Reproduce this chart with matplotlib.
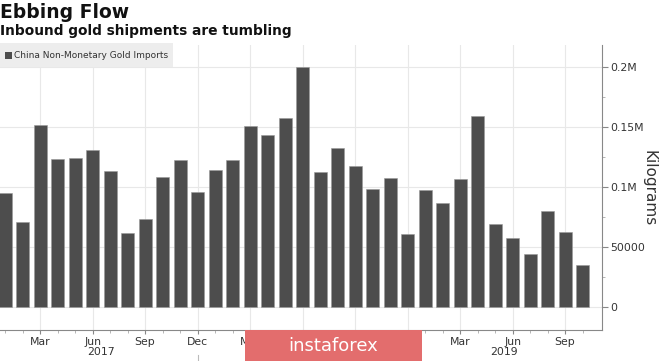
import matplotlib
matplotlib.use("Agg")
import matplotlib.pyplot as plt
import matplotlib.transforms as mtransforms
from matplotlib.patches import Rectangle
from matplotlib.ticker import FixedLocator, MultipleLocator

# ---- data ----
months = ["Jan", "Feb", "Mar", "Apr", "May", "Jun", "Jul", "Aug", "Sep", "Oct", "Nov", "Dec"] * 2 + \
         ["Jan", "Feb", "Mar", "Apr", "May", "Jun", "Jul", "Aug", "Sep", "Oct"]
years = [2017] * 12 + [2018] * 12 + [2019] * 10
imports_kg = [95000, 70800, 151500, 123000, 124000, 131000, 113000, 62000, 73000, 108000, 122000, 96000,
              114000, 122000, 151000, 143000, 157000, 200000, 112000, 132500, 117000, 98000, 107000, 61000,
              97500, 86500, 106500, 159000, 69000, 57500, 44000, 80000, 62500, 35000]
y_ticks = [0, 50000, 100000, 150000, 200000]
y_tick_labels = ["0", "50000", "0.1M", "0.15M", "0.2M"]
series_name = "China Non-Monetary Gold Imports"
title = "Ebbing Flow"
subtitle = "Inbound gold shipments are tumbling"

W, H = 665, 361
fig = plt.figure(figsize=(W / 100, H / 100), dpi=100)
fig.patch.set_facecolor("white")

ax = fig.add_axes([0, (H - 330) / H, 602 / W, (330 - 45) / H])
x = list(range(len(imports_kg)))
ax.bar(x, imports_kg, width=0.74, color="#4d4d4d", edgecolor="#9a9a9a", linewidth=0.4, zorder=3,
       label=series_name)

ax.set_xlim(-0.29, 34.11)
ax.set_ylim(-19000, 218000)

# y axis on right
ax.yaxis.tick_right()
ax.yaxis.set_label_position("right")
ax.set_yticks(y_ticks)
ax.set_yticklabels(y_tick_labels)
ax.yaxis.set_minor_locator(MultipleLocator(25000))
ax.tick_params(axis="y", which="major", length=4, width=0.8, color="#888888", labelsize=7.8,
               labelcolor="#333333", pad=2)
ax.tick_params(axis="y", which="minor", length=2.5, width=0.6, color="#aaaaaa")
ax.set_ylabel("Kilograms", rotation=270, fontsize=11, color="#333333", va="center")
ax.yaxis.set_label_coords(649 / 602, (330 - 188) / 285)

# watermark extent (pixels)
wm_left, wm_right = 245, 422

# x axis
major_idx = [i for i, m in enumerate(months) if m in ("Mar", "Jun", "Sep", "Dec")]
ax.xaxis.set_major_locator(FixedLocator(major_idx))
ax.set_xticklabels([months[i] for i in major_idx])
ax.xaxis.set_minor_locator(FixedLocator(x))
ax.tick_params(axis="x", which="major", length=3, width=0.8, color="#888888", labelsize=7.8,
               labelcolor="#333333", pad=2)
ax.tick_params(axis="x", which="minor", length=2, width=0.6, color="#aaaaaa")


def px_of(i):
    return (i + 0.29) / (34.11 + 0.29) * 602


# labels fully hidden by the watermark are not drawn
for lbl, i in zip(ax.get_xticklabels(), major_idx):
    if wm_left + 12 < px_of(i) < wm_right:
        lbl.set_visible(False)

for s in ["top", "left"]:
    ax.spines[s].set_visible(False)
ax.spines["right"].set_color("#888888")
ax.spines["bottom"].set_color("#888888")
ax.spines["right"].set_linewidth(0.8)
ax.spines["bottom"].set_linewidth(0.8)

ax.grid(True, which="major", color="#e8e8e8", linewidth=0.8, zorder=0)

# year labels
trans = mtransforms.blended_transform_factory(ax.transData, ax.transAxes)
year_positions = {}
for i, yv in enumerate(years):
    year_positions.setdefault(yv, []).append(i)
for yv, idx in year_positions.items():
    lo = idx[0] - 0.5
    hi = min(idx[-1] + 0.5, 34.11)
    mid = (lo + hi) / 2
    if wm_left < px_of(mid) < wm_right:
        continue
    ax.text(mid, -22 / 285, str(yv), transform=trans, ha="center", va="center",
            fontsize=7.8, color="#333333")
for i in range(1, len(years)):
    if years[i] != years[i - 1]:
        ax.plot([i - 1, i - 1], [-25 / 285, -0.2], transform=trans, clip_on=False,
                color="#bbbbbb", linewidth=0.8)

# legend box
fig.patches.append(Rectangle((0, 1 - 67 / H), 173 / W, 24 / H, transform=fig.transFigure,
                             facecolor="#ededed", edgecolor="none", zorder=5))
fig.patches.append(Rectangle((5 / W, 1 - 59 / H), 7 / W, 7 / H, transform=fig.transFigure,
                             facecolor="#4d4d4d", edgecolor="none", zorder=6))
fig.text(14 / W, 1 - 55.5 / H, series_name, fontsize=6.5, color="#333333", va="center", ha="left", zorder=7)

# titles
fig.text(0, 1 - 12 / H, title, fontsize=13.5, fontweight="bold", color="#111111", va="center", ha="left")
fig.text(0, 1 - 31 / H, subtitle, fontsize=9.9, fontweight="bold", color="#111111", va="center", ha="left")

# watermark
fig.patches.append(Rectangle((wm_left / W, 0), (wm_right - wm_left) / W, 31 / H, transform=fig.transFigure,
                             facecolor="#e36d6d", edgecolor="none", zorder=8))
fig.text(333 / W, 15 / H, "instaforex", fontsize=13, color="white", va="center", ha="center", zorder=9)

fig.savefig("out.png", dpi=100)
